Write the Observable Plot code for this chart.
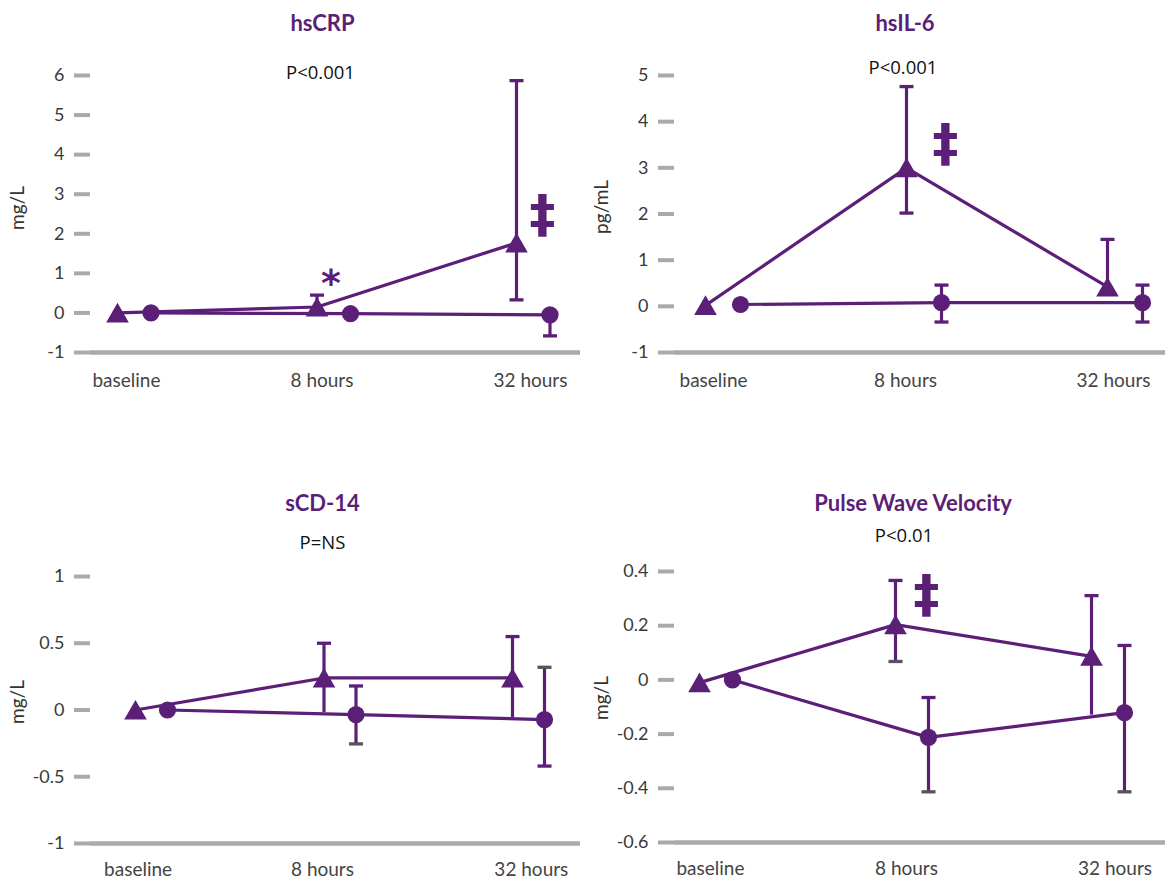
<!DOCTYPE html>
<html><head><meta charset="utf-8">
<script src="https://cdn.jsdelivr.net/npm/d3@7"></script>
<script src="https://cdn.jsdelivr.net/npm/@observablehq/plot@0.6"></script>
<style>
body{margin:0;background:#fff;}
#chart{position:relative;width:1165px;height:880px;background:#fff;}
.panel{position:absolute;}
</style></head><body><div id="chart"></div>
<script>
// ---- data ----
const times = ["baseline", "8 hours", "32 hours"];
const panelTitles = ["hsCRP", "hsIL-6", "sCD-14", "Pulse Wave Velocity"];
const pValues = ["P<0.001", "P<0.001", "P=NS", "P<0.01"];
const unitLabels = ["mg/L", "pg/mL", "mg/L", "mg/L"];

const crpTicks = [-1, 0, 1, 2, 3, 4, 5, 6];
const crpTri = [0, 0.15, 1.77];
const crpTriHi = [null, 0.45, 5.87];
const crpTriLo = [null, null, 0.33];
const crpCirc = [0, -0.02, -0.05];
const crpCircHi = [null, null, null];
const crpCircLo = [null, null, -0.58];
const crpMarks = [{time: "8 hours", value: 1.04, symbol: "*"}, {time: "32 hours", value: 2.5, symbol: "‡"}];

const il6Ticks = [-1, 0, 1, 2, 3, 4, 5];
const il6Tri = [0.02, 3.0, 0.42];
const il6TriHi = [null, 4.76, 1.45];
const il6TriLo = [null, 2.02, null];
const il6Circ = [0.04, 0.08, 0.08];
const il6CircHi = [null, 0.46, 0.46];
const il6CircLo = [null, -0.34, -0.34];
const il6Marks = [{time: "8 hours", value: 3.53, symbol: "‡"}];

const cd14Ticks = [-1, -0.5, 0, 0.5, 1];
const cd14Tri = [0, 0.24, 0.24];
const cd14TriHi = [null, 0.5, 0.55];
const cd14TriLo = [null, -0.02, -0.06];
const cd14Circ = [0, -0.035, -0.072];
const cd14CircHi = [null, 0.18, 0.32];
const cd14CircLo = [null, -0.254, -0.42];
const cd14Marks = [];

const pwvTicks = [-0.6, -0.4, -0.2, 0, 0.2, 0.4];
const pwvTri = [-0.01, 0.204, 0.087];
const pwvTriHi = [null, 0.367, 0.311];
const pwvTriLo = [null, 0.068, -0.13];
const pwvCirc = [0, -0.212, -0.121];
const pwvCircHi = [null, -0.065, 0.127];
const pwvCircLo = [null, -0.413, -0.413];
const pwvMarks = [{time: "8 hours", value: 0.317, symbol: "‡"}];

const panels = [
  {title: panelTitles[0], p: pValues[0], unit: unitLabels[0], ticks: crpTicks, tri: crpTri, triHi: crpTriHi, triLo: crpTriLo, circ: crpCirc, circHi: crpCircHi, circLo: crpCircLo, marks: crpMarks},
  {title: panelTitles[1], p: pValues[1], unit: unitLabels[1], ticks: il6Ticks, tri: il6Tri, triHi: il6TriHi, triLo: il6TriLo, circ: il6Circ, circHi: il6CircHi, circLo: il6CircLo, marks: il6Marks},
  {title: panelTitles[2], p: pValues[2], unit: unitLabels[2], ticks: cd14Ticks, tri: cd14Tri, triHi: cd14TriHi, triLo: cd14TriLo, circ: cd14Circ, circHi: cd14CircHi, circLo: cd14CircLo, marks: cd14Marks},
  {title: panelTitles[3], p: pValues[3], unit: unitLabels[3], ticks: pwvTicks, tri: pwvTri, triHi: pwvTriHi, triLo: pwvTriLo, circ: pwvCirc, circHi: pwvCircHi, circLo: pwvCircLo, marks: pwvMarks}
];

// ---- layout & style ----
const PURPLE = "#5c1f78";
const GRAY = "#a9aaac";
const CAPGRAY = "#555555";
const layouts = [
  {left: 0, top: 0, width: 582, marginRight: 2, marginTop: 75, marginBottom: 48, xRange: [117, 516], circDx: 33.5, labelAt: [0.045, 1.025, 2.07], labelPad: 21,
   titleDx: -13, titleDy: -52, pDx: -15, pDy: -2, unitDy: -6, markDx: [14, 26],
   caps: {tri: [["", ""], ["p", ""], ["p", "p"]], circ: [["", ""], ["", ""], ["", "p"]]}},
  {left: 584, top: 0, width: 581, marginRight: 0, marginTop: 75, marginBottom: 48, xRange: [121, 523], circDx: 35, labelAt: [0.04, 0.995, 2.03], labelPad: 21,
   titleDx: -15, titleDy: -52, pDx: -17, pDy: -7, unitDy: -7, markDx: [39],
   caps: {tri: [["", ""], ["p", "p"], ["p", ""]], circ: [["", ""], ["p", "p"], ["p", "p"]]}},
  {left: 0, top: 480, width: 582, marginRight: 2, marginTop: 96, marginBottom: 37, xRange: [135, 512], circDx: 32, labelAt: [0.014, 0.992, 2.1], labelPad: 19,
   titleDx: -13, titleDy: -73, pDx: -13, pDy: -33, unitDy: -8, markDx: [],
   caps: {tri: [["", ""], ["p", ""], ["p", ""]], circ: [["", ""], ["p", "g"], ["g", "p"]]}},
  {left: 584, top: 480, width: 581, marginRight: 0, marginTop: 91, marginBottom: 38, xRange: [115, 507], circDx: 33, labelAt: [0.056, 1.056, 2.12], labelPad: 19,
   titleDx: -7, titleDy: -68, pDx: -16, pDy: -35, unitDy: -9, markDx: [31],
   caps: {tri: [["", ""], ["p", "g"], ["p", ""]], circ: [["", ""], ["p", "g"], ["p", "g"]]}}
];

const capSymbol = {draw(ctx) { ctx.moveTo(-7, 0); ctx.lineTo(7, 0); }};
const capColor = {p: PURPLE, g: CAPGRAY};

function seriesRows(vals) { return vals.map((v, i) => ({t: i, v})); }
function barRows(vals, hi, lo) {
  const rows = [];
  vals.forEach((v, i) => {
    if (hi[i] != null) rows.push({t: i, y1: v, y2: hi[i]});
    if (lo[i] != null) rows.push({t: i, y1: v, y2: lo[i]});
  });
  return rows;
}
function capRows(hi, lo, caps) {
  const rows = [];
  hi.forEach((h, i) => {
    if (h != null && caps[i][0]) rows.push({t: i, y: h, c: capColor[caps[i][0]]});
    if (lo[i] != null && caps[i][1]) rows.push({t: i, y: lo[i], c: capColor[caps[i][1]]});
  });
  return rows;
}

const root = document.getElementById("chart");
panels.forEach((P, k) => {
  const L = layouts[k];
  const yMin = d3.min(P.ticks), yMax = d3.max(P.ticks);
  const tri = seriesRows(P.tri), circ = seriesRows(P.circ);
  const marks = P.marks.map((m, j) => ({t: times.indexOf(m.time), v: m.value, s: m.symbol, dx: L.markDx[j]}));
  const star = marks.filter(d => d.s === "*");
  const dagger = marks.filter(d => d.s === "‡");
  const svg = Plot.plot({
    width: L.width,
    height: 400,
    marginLeft: 90,
    marginRight: L.marginRight,
    marginTop: L.marginTop,
    marginBottom: L.marginBottom,
    style: {fontFamily: "Lato, 'Open Sans', sans-serif", background: "transparent", overflow: "visible"},
    x: {type: "linear", domain: [0, 2], range: L.xRange},
    y: {type: "linear", domain: [yMin, yMax]},
    marks: [
      Plot.axisY({ticks: P.ticks, tickFormat: d => String(d), tickSize: 16, tickPadding: 10, stroke: GRAY, strokeWidth: 4, fill: "#3a3a3a", fontSize: 18, label: null}),
      Plot.axisX({ticks: L.labelAt, tickFormat: d => times[L.labelAt.indexOf(d)], tickSize: 0, tickPadding: L.labelPad, fill: "#444", fontSize: 19, label: null}),
      Plot.ruleY([yMin], {stroke: GRAY, strokeWidth: 4.5}),
      Plot.text([P.unit], {frameAnchor: "left", textAnchor: "middle", lineAnchor: "middle", rotate: -90, dx: -73, dy: L.unitDy, fontSize: 19, fill: "#333"}),
      Plot.text([P.title], {frameAnchor: "top", lineAnchor: "middle", dx: L.titleDx, dy: L.titleDy, fontSize: 22, fontWeight: "bold", fill: PURPLE}),
      Plot.text([P.p], {frameAnchor: "top", lineAnchor: "middle", dx: L.pDx, dy: L.pDy, fontSize: 18.5, fill: "#111", fontFamily: "'Open Sans', sans-serif"}),
      // error bars
      Plot.ruleX(barRows(P.tri, P.triHi, P.triLo), {x: "t", y1: "y1", y2: "y2", stroke: PURPLE, strokeWidth: 3.2}),
      Plot.ruleX(barRows(P.circ, P.circHi, P.circLo), {x: "t", y1: "y1", y2: "y2", stroke: PURPLE, strokeWidth: 3.2, dx: L.circDx}),
      // lines
      Plot.line(tri, {x: "t", y: "v", stroke: PURPLE, strokeWidth: 3.2}),
      Plot.line(circ, {x: "t", y: "v", stroke: PURPLE, strokeWidth: 3.2, dx: L.circDx}),
      // markers
      Plot.dot(tri, {x: "t", y: "v", symbol: "triangle", r: 8.4, fill: PURPLE, stroke: "none", dy: 3}),
      Plot.dot(circ, {x: "t", y: "v", symbol: "circle", r: 8.6, fill: PURPLE, stroke: "none", dx: L.circDx}),
      // caps
      Plot.dot(capRows(P.triHi, P.triLo, L.caps.tri), {x: "t", y: "y", symbol: capSymbol, r: 1, fill: "none", stroke: "c", strokeWidth: 3.3}),
      Plot.dot(capRows(P.circHi, P.circLo, L.caps.circ), {x: "t", y: "y", symbol: capSymbol, r: 1, fill: "none", stroke: "c", strokeWidth: 3.3, dx: L.circDx}),
      // significance markers
      Plot.text(star, {x: "t", y: "v", text: "s", dx: star.length ? star[0].dx : 0, dy: 12, fontSize: 38, fontWeight: "bold", fontFamily: "'DejaVu Sans', sans-serif", fill: PURPLE}),
      Plot.text(dagger, {x: "t", y: "v", text: "s", dx: dagger.length ? dagger[0].dx : 0, dy: 1, fontSize: 52, fontWeight: "bold", fontFamily: "'DejaVu Sans', sans-serif", fill: PURPLE})
    ]
  });
  const div = document.createElement("div");
  div.className = "panel";
  div.style.left = L.left + "px";
  div.style.top = L.top + "px";
  div.appendChild(svg);
  root.appendChild(div);
});
</script>
</body></html>
